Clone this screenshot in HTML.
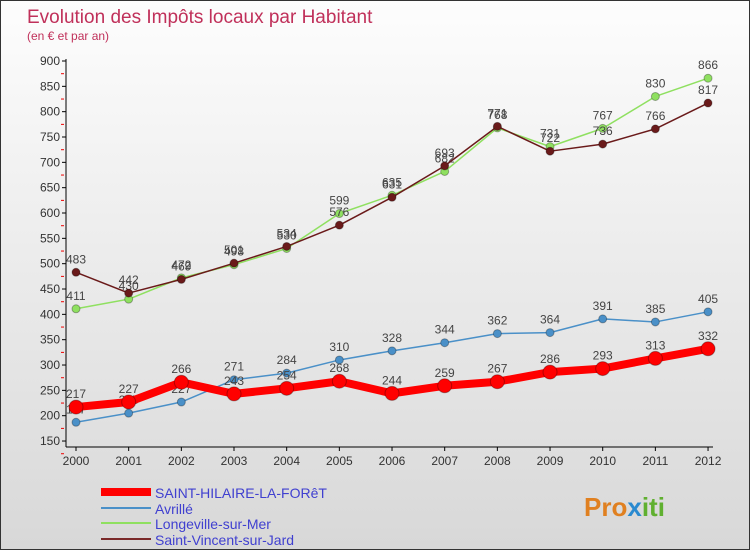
<!DOCTYPE html>
<html><head><meta charset="utf-8"><style>
body{margin:0;width:750px;height:550px;overflow:hidden;font-family:"Liberation Sans",sans-serif}
#wrap{position:relative;width:748px;height:548px;border:1px solid #333;background:linear-gradient(#fdfdfd,#d8d8d8)}
</style></head><body>
<div id="wrap">
<svg id="svg" width="748" height="548" xmlns="http://www.w3.org/2000/svg">
<text x="26" y="22" font-size="19" fill="#c0305a">Evolution des Impôts locaux par Habitant</text>
<text x="26" y="39" font-size="12" fill="#c0305a">(en € et par an)</text>
<g id="axes"></g><g id="series"></g>
<g>
<line x1="100" y1="491" x2="150" y2="491" stroke="#f00" stroke-width="8"/>
<text x="154" y="497" font-size="14" fill="#4040d0">SAINT-HILAIRE-LA-FORêT</text>
<line x1="100" y1="507" x2="150" y2="507" stroke="#4a90c8" stroke-width="2"/>
<text x="154" y="513" font-size="14" fill="#4040d0">Avrillé</text>
<line x1="100" y1="522" x2="150" y2="522" stroke="#8fe060" stroke-width="2"/>
<text x="154" y="528" font-size="14" fill="#4040d0">Longeville-sur-Mer</text>
<line x1="100" y1="538" x2="150" y2="538" stroke="#7a2a2a" stroke-width="2"/>
<text x="154" y="544" font-size="14" fill="#4040d0">Saint-Vincent-sur-Jard</text>
</g>
<text x="583" y="515" font-size="26" font-weight="bold" fill="#e08020">Pro<tspan fill="#2a8ad0">x</tspan><tspan fill="#60b030">iti</tspan></text>
</svg>
</div>
<script>
const years=[2000,2001,2002,2003,2004,2005,2006,2007,2008,2009,2010,2011,2012];
const sainthilaire=[217,227,266,243,254,268,244,259,267,286,293,313,332];
const avrille=[187,205,227,271,284,310,328,344,362,364,391,385,405];
const longeville=[411,430,472,498,530,599,635,682,768,731,767,830,866];
const saintvincent=[483,442,469,501,534,576,631,693,771,722,736,766,817];
const yTicks=[150,200,250,300,350,400,450,500,550,600,650,700,750,800,850,900];
const NS="http://www.w3.org/2000/svg";
const xS=i=>75+i*52.67;
const yS=v=>60+(900-v)*0.5067;
function mk(tag,attrs,parent){const e=document.createElementNS(NS,tag);for(const k in attrs)e.setAttribute(k,attrs[k]);parent.appendChild(e);return e;}
const ax=document.getElementById('axes');
let l=mk('line',{x1:65,y1:58,x2:65,y2:446,stroke:'#000'},ax);


l=mk('line',{x1:65,y1:446,x2:712,y2:446,stroke:'#000'},ax);


yTicks.forEach(t=>{
 mk('line',{x1:61,y1:yS(t),x2:65,y2:yS(t),stroke:'#000'},ax);
 mk('line',{x1:60,y1:yS(t)+12.7,x2:63,y2:yS(t)+12.7,stroke:'#e00'},ax);
 const tx=mk('text',{x:59,y:yS(t)+4,'font-size':12,'text-anchor':'end',fill:'#333'},ax);
 tx.textContent=t;
 
 
});
years.forEach((y,i)=>{
 mk('line',{x1:xS(i),y1:446,x2:xS(i),y2:450,stroke:'#000'},ax);
 const tx=mk('text',{x:xS(i),y:464,'font-size':12,'text-anchor':'middle',fill:'#333'},ax);
 tx.textContent=y;
 
 
});
const sg=document.getElementById('series');
function draw(data,color,w,r,name){
 const g=mk('g',{},sg);
 
 
 const p=mk('polyline',{points:data.map((v,i)=>xS(i)+','+yS(v)).join(' '),fill:'none',stroke:color,'stroke-width':w,'stroke-linejoin':'round'},g);
 
 
 data.forEach((v,i)=>{
  const c=mk('circle',{cx:xS(i),cy:yS(v),r:r,fill:color,stroke:'rgba(0,0,0,0.3)'},g);
  
  
  const t=mk('text',{x:xS(i),y:yS(v)-9,'font-size':12,'text-anchor':'middle',fill:'#444'},g);
  t.textContent=v;
  
  
 });
}
draw(longeville,'#8fe060',1.5,4,'longeville');
draw(saintvincent,'#6a1a1a',1.5,4,'saint-vincent');
draw(avrille,'#4a90c8',1.5,4,'avrille');
draw(sainthilaire,'#f00',8,7,'saint-hilaire');
</script>
</body></html>
